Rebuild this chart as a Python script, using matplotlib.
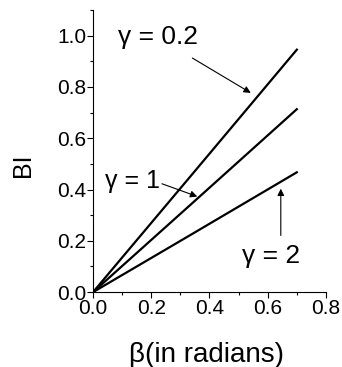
import matplotlib
matplotlib.use("Agg")
import matplotlib.pyplot as plt
from matplotlib.ticker import MultipleLocator

plt.rcParams['font.family'] = ['Liberation Sans', 'DejaVu Sans']

# beta (radians) and BI for the three gamma values
beta = [0.0, 0.35, 0.7]
bi_g02 = [0.0, 0.472, 0.945]
bi_g1 = [0.0, 0.356, 0.713]
bi_g2 = [0.0, 0.233, 0.467]

xticks = [0.0, 0.2, 0.4, 0.6, 0.8]
yticks = [0.0, 0.2, 0.4, 0.6, 0.8, 1.0]

fig = plt.figure(figsize=(3.42, 3.67), dpi=100)
ax = fig.add_axes([0.272, 0.204, 0.681, 0.769])

for vals in (bi_g02, bi_g1, bi_g2):
    ax.plot(beta, vals, color="black", lw=1.6)

ax.set_xlim(0, 0.8)
ax.set_ylim(0, 1.1)
ax.set_xticks(xticks, ["%.1f" % v for v in xticks])
ax.set_yticks(yticks, ["%.1f" % v for v in yticks])
ax.xaxis.set_minor_locator(MultipleLocator(0.1))
ax.yaxis.set_minor_locator(MultipleLocator(0.1))

for s in ("top", "right"):
    ax.spines[s].set_visible(False)
for s in ("left", "bottom"):
    ax.spines[s].set_linewidth(0.8)

ax.tick_params(which="major", length=4, width=0.8, labelsize=15, pad=1)
ax.tick_params(which="minor", length=2.5, width=0.8)

ax.set_xlabel("β(in radians)", fontsize=20, va="top")
ax.xaxis.set_label_coords(0.487, -0.176)
ax.set_ylabel("BI", fontsize=18)
ax.yaxis.set_label_coords(-0.25, 0.45)

arrow = dict(arrowstyle="-|>", color="black", lw=0.8, mutation_scale=10)

ax.text(0.087, 0.993, "γ = 0.2", fontsize=19, ha="left", va="center")
ax.annotate("", xy=(0.550, 0.771), xytext=(0.333, 0.918), arrowprops=arrow)

ax.text(0.040, 0.432, "γ = 1", fontsize=18, ha="left", va="center")
ax.annotate("", xy=(0.367, 0.369), xytext=(0.228, 0.426), arrowprops=arrow)

ax.text(0.512, 0.141, "γ = 2", fontsize=19, ha="left", va="center")
ax.annotate("", xy=(0.645, 0.414), xytext=(0.645, 0.21), arrowprops=arrow)

fig.savefig("out.png", dpi=100)
